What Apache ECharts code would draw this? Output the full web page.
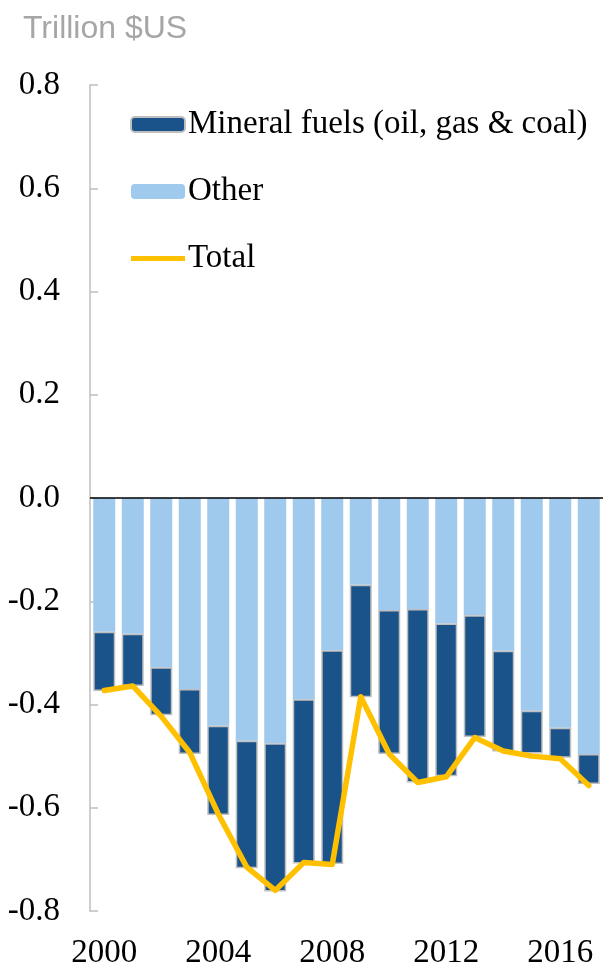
<!DOCTYPE html>
<html>
<head>
<meta charset="utf-8">
<script src="https://cdn.jsdelivr.net/npm/echarts@6/dist/echarts.min.js"></script>
<style>
  html, body { margin: 0; padding: 0; background: #fff; }
  #chart { width: 603px; height: 971px; }
</style>
</head>
<body>
<div id="chart"></div>
<script>
const years = ['2000', '2001', '2002', '2003', '2004', '2005', '2006', '2007', '2008',
  '2009', '2010', '2011', '2012', '2013', '2014', '2015', '2016', '2017']
const other = [-0.259, -0.263, -0.328, -0.370, -0.441, -0.470, -0.475, -0.390, -0.295,
  -0.168, -0.217, -0.215, -0.243, -0.227, -0.296, -0.412, -0.445, -0.496]
const mineralFuels = [-0.115, -0.101, -0.093, -0.126, -0.173, -0.247, -0.287, -0.318, -0.414,
  -0.218, -0.279, -0.336, -0.296, -0.236, -0.195, -0.083, -0.058, -0.058]
const total = [-0.373, -0.364, -0.423, -0.493, -0.612, -0.715, -0.760, -0.706, -0.710,
  -0.385, -0.496, -0.551, -0.540, -0.464, -0.490, -0.500, -0.505, -0.557]
const yTicks = { min: -0.8, max: 0.8, interval: 0.2 }

const serif = '"Liberation Serif", "DejaVu Serif", serif'

const chart = echarts.init(document.getElementById('chart'))

chart.setOption({
  animation: false,
  title: {
    text: 'Trillion $US',
    left: 18,
    top: 8,
    textStyle: {
      fontFamily: '"Liberation Sans", Arial, sans-serif',
      fontSize: 32,
      fontWeight: 'normal',
      color: '#a6a6a6'
    }
  },
  legend: {
    orient: 'vertical',
    left: 130,
    top: 108,
    padding: 0,
    itemWidth: 54,
    itemHeight: 15,
    itemGap: 34,
    data: [
      'Mineral fuels (oil, gas & coal)',
      'Other',
      // plain thick line for the total, no marker
      { name: 'Total', icon: 'path://M0,0 L54,0 L54,5 L0,5 Z' }
    ],
    textStyle: {
      fontFamily: serif,
      fontSize: 33,
      lineHeight: 33,
      color: '#000',
      padding: [0, 0, 0, -2]
    }
  },
  grid: {
    left: 90,
    right: 0,
    top: 85,
    bottom: 60,
    containLabel: false
  },
  xAxis: {
    type: 'category',
    data: years,
    axisLine: { show: false, onZero: false },
    axisTick: { show: false },
    axisLabel: {
      interval: 3,
      margin: 26,
      fontFamily: serif,
      fontSize: 33,
      color: '#000'
    }
  },
  yAxis: {
    type: 'value',
    min: yTicks.min,
    max: yTicks.max,
    interval: yTicks.interval,
    splitLine: { show: false },
    axisLine: { show: true, lineStyle: { color: '#bfbfbf', width: 1.5 } },
    axisTick: { show: true, inside: true, length: 8, lineStyle: { color: '#bfbfbf', width: 1.5 } },
    axisLabel: {
      margin: 30,
      fontFamily: serif,
      fontSize: 33,
      color: '#000',
      formatter: v => v.toFixed(1)
    }
  },
  series: [
    {
      name: 'Other',
      type: 'bar',
      stack: 'trade',
      barWidth: 22,
      itemStyle: { color: '#a0c9ee' },
      data: other,
      markLine: {
        silent: true,
        symbol: 'none',
        label: { show: false },
        lineStyle: { color: '#000', width: 1.5, type: 'solid' },
        data: [{ yAxis: 0 }],
        z: 5
      }
    },
    {
      name: 'Mineral fuels (oil, gas & coal)',
      type: 'bar',
      stack: 'trade',
      barWidth: 22,
      itemStyle: { color: '#1a538a', borderColor: '#bfbfbf', borderWidth: 1.5 },
      data: mineralFuels
    },
    {
      name: 'Total',
      type: 'line',
      symbol: 'none',
      z: 10,
      lineStyle: { color: '#ffc000', width: 5.5, cap: 'round', join: 'round' },
      itemStyle: { color: '#ffc000' },
      data: total
    }
  ]
})
</script>
</body>
</html>
